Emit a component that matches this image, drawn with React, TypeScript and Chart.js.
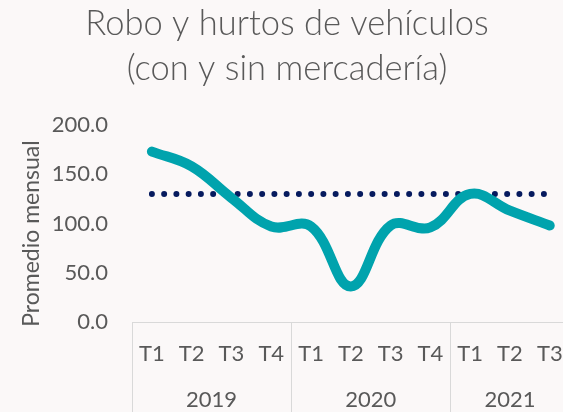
import React, { useEffect, useRef } from 'react';
import { Chart, registerables } from 'chart.js';

Chart.register(...registerables);

const titleLines = ['Robo y hurtos de vehículos', '(con y sin mercadería)'];
const yAxisTitle = 'Promedio mensual';
const quarters = ['T1', 'T2', 'T3', 'T4', 'T1', 'T2', 'T3', 'T4', 'T1', 'T2', 'T3'];
const years = ['2019', '2020', '2021'];
const quartersPerYear = [4, 4, 3];
const robos = [173, 158, 126, 97, 97, 36, 98, 96, 130, 113, 98];
const referencia = [130, 130, 130, 130, 130, 130, 130, 130, 130, 130, 130];
const yMin = 0;
const yMax = 200;
const yStep = 50;

const TEXT = '#595959';
const GRID = '#d9d9d9';
const FONT = 'Lato, "Open Sans", sans-serif';

const groupAxisPlugin = {
  id: 'groupAxis',
  afterDraw(chart: any) {
    const { ctx, chartArea } = chart;
    const x = chart.scales.x;
    const step = (x.right - x.left) / quarters.length;
    const bottom = chart.height;
    ctx.save();
    ctx.strokeStyle = GRID;
    ctx.lineWidth = 1;
    ctx.fillStyle = TEXT;
    ctx.font = `22px ${FONT}`;
    ctx.textAlign = 'center';
    ctx.textBaseline = 'middle';
    let start = 0;
    const drawSep = (px: number) => {
      const cx = Math.round(px) + 0.5;
      ctx.beginPath();
      ctx.moveTo(cx, chartArea.bottom);
      ctx.lineTo(cx, bottom);
      ctx.stroke();
    };
    years.forEach((yr, g) => {
      const span = quartersPerYear[g];
      const left = x.getPixelForValue(start) - step / 2;
      const right = x.getPixelForValue(start + span - 1) + step / 2;
      drawSep(left);
      if (g === years.length - 1) drawSep(right);
      ctx.fillText(yr, (left + right) / 2, chartArea.bottom + 78);
      start += span;
    });
    // y axis title
    ctx.font = `23px ${FONT}`;
    ctx.translate(32, (chartArea.top + chartArea.bottom) / 2 + 10);
    ctx.rotate(-Math.PI / 2);
    ctx.fillText(yAxisTitle, 0, 0);
    ctx.restore();
  },
};

export default function App() {
  const ref = useRef<HTMLCanvasElement>(null);
  useEffect(() => {
    if (!ref.current) return;
    const chart = new Chart(ref.current, {
      type: 'line',
      data: {
        labels: quarters,
        datasets: [
          {
            label: 'Robo y hurtos',
            data: robos,
            borderColor: '#00a3ad',
            borderWidth: 10,
            borderCapStyle: 'round',
            borderJoinStyle: 'round',
            tension: 0.4,
            pointRadius: 0,
            fill: false,
          },
          {
            label: 'Referencia',
            data: referencia,
            borderColor: '#061a5e',
            borderWidth: 6,
            borderCapStyle: 'round',
            borderDash: [0, 12.25],
            pointRadius: 0,
            fill: false,
          },
        ],
      },
      options: {
        responsive: false,
        animation: false,
        layout: { padding: { left: 0, right: 8, top: 0, bottom: 0 } },
        plugins: {
          legend: { display: false },
          tooltip: { enabled: false },
          title: {
            display: true,
            text: titleLines,
            color: TEXT,
            font: { family: FONT, size: 34.5, weight: '300', lineHeight: 45 / 34.5 },
            padding: { top: 1, bottom: 34 },
          },
        },
        scales: {
          x: {
            offset: true,
            grid: { display: false, drawTicks: false },
            border: { display: true, color: GRID, width: 1 },
            ticks: {
              color: TEXT,
              font: { family: FONT, size: 22 },
              padding: 19,
              maxRotation: 0,
              autoSkip: false,
            },
            afterFit: (s: any) => {
              s.height = 90;
            },
          },
          y: {
            min: yMin,
            max: yMax,
            grid: { display: false, drawTicks: false },
            border: { display: false },
            ticks: {
              stepSize: yStep,
              color: TEXT,
              font: { family: FONT, size: 22 },
              padding: 24,
              callback: (v: any) => Number(v).toFixed(1),
            },
            afterFit: (s: any) => {
              s.width = 132;
            },
          },
        },
      },
      plugins: [groupAxisPlugin],
    });
    return () => chart.destroy();
  }, []);
  return (
    <div
      style={{
        position: 'fixed',
        left: 0,
        top: 0,
        width: 563,
        height: 412,
        overflow: 'hidden',
        background: '#fbf8f8',
      }}
    >
      <canvas ref={ref} width={582} height={412} style={{ width: 582, height: 412, display: 'block' }} />
    </div>
  );
}
